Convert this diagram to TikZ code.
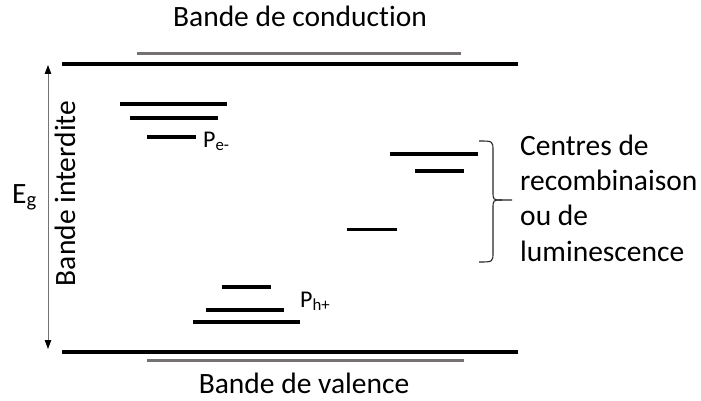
\documentclass[tikz,border=0pt]{standalone}
\usepackage{fontspec}
\setmainfont{Carlito}[Ligatures=NoCommon]
\usetikzlibrary{arrows.meta}
\definecolor{bandgray}{RGB}{118,113,113}
\begin{document}
\begin{tikzpicture}[x=1pt,y=-1pt,
  band/.style={line width=3.5pt, black},
  bandedge/.style={line width=3pt, bandgray},
  lvl/.style={line width=3.5pt, black},
  big/.style={font=\fontsize{29.5}{36}\selectfont, inner sep=0pt},
  lab/.style={font=\fontsize{24}{29}\selectfont, inner sep=0pt},
  gaparrow/.style={line width=0.9pt, black!55,
    {Triangle[length=9pt,width=6.5pt,color=black]}-{Triangle[length=9pt,width=6.5pt,color=black]}},
  bracestyle/.style={line width=1.1pt, black!85},
]
\useasboundingbox (0,0) rectangle (701,401);

% bands
\draw[bandedge] (137,54) -- (461,54);
\draw[band] (62,64) -- (518,64);
\draw[band] (62,352) -- (518,352);
\draw[bandedge] (147,360.5) -- (464,360.5);

% levels near conduction band
\draw[lvl] (120,104) -- (227,104);
\draw[lvl] (130,118) -- (218,118);
\draw[lvl] (147,137) -- (196,137);

% levels near valence band
\draw[lvl] (222,287) -- (271,287);
\draw[lvl] (206,310) -- (284,310);
\draw[lvl] (193,322) -- (300,322);

% recombination centres
\draw[lvl] (390,154) -- (478,154);
\draw[lvl] (415,171) -- (464,171);
\draw[lvl] (347,229.5) -- (397,229.5);

% gap arrow
\coordinate (atop) at (48,65);
\coordinate (abot) at (48,349);
\draw[gaparrow] (atop) -- (abot);

% brace
\draw[bracestyle] (479,141) .. controls (493,141) .. (493,151) -- (493,191)
  .. controls (493,200) .. (502,200) -- (512,200);
\draw[bracestyle] (502,200) .. controls (493,200) .. (493,209) -- (493,252)
  .. controls (493,262) .. (479,262);

% texts
\node[big, anchor=base] (cond) at (300,27) {Bande de conduction};
\node[big, anchor=base] (val) at (304,393) {Bande de valence};
\node[big, anchor=base, rotate=90] (inter) at (75,193.5) {Bande interdite};
\node[big, anchor=base west] (eg) at (12,203) {E\textsubscript{g}};
\node[lab, anchor=base west] (pe) at (203,147) {P\textsubscript{e-}};
\node[lab, anchor=base west] (ph) at (300,307) {P\textsubscript{h+}};
\node[big, anchor=base west] (c1) at (520,155) {Centres de};
\node[big, anchor=base west] (c2) at (520,190) {recombinaison};
\node[big, anchor=base west] (c3) at (520,225) {ou de};
\node[big, anchor=base west] (c4) at (520,261) {luminescence};
\end{tikzpicture}
\end{document}
